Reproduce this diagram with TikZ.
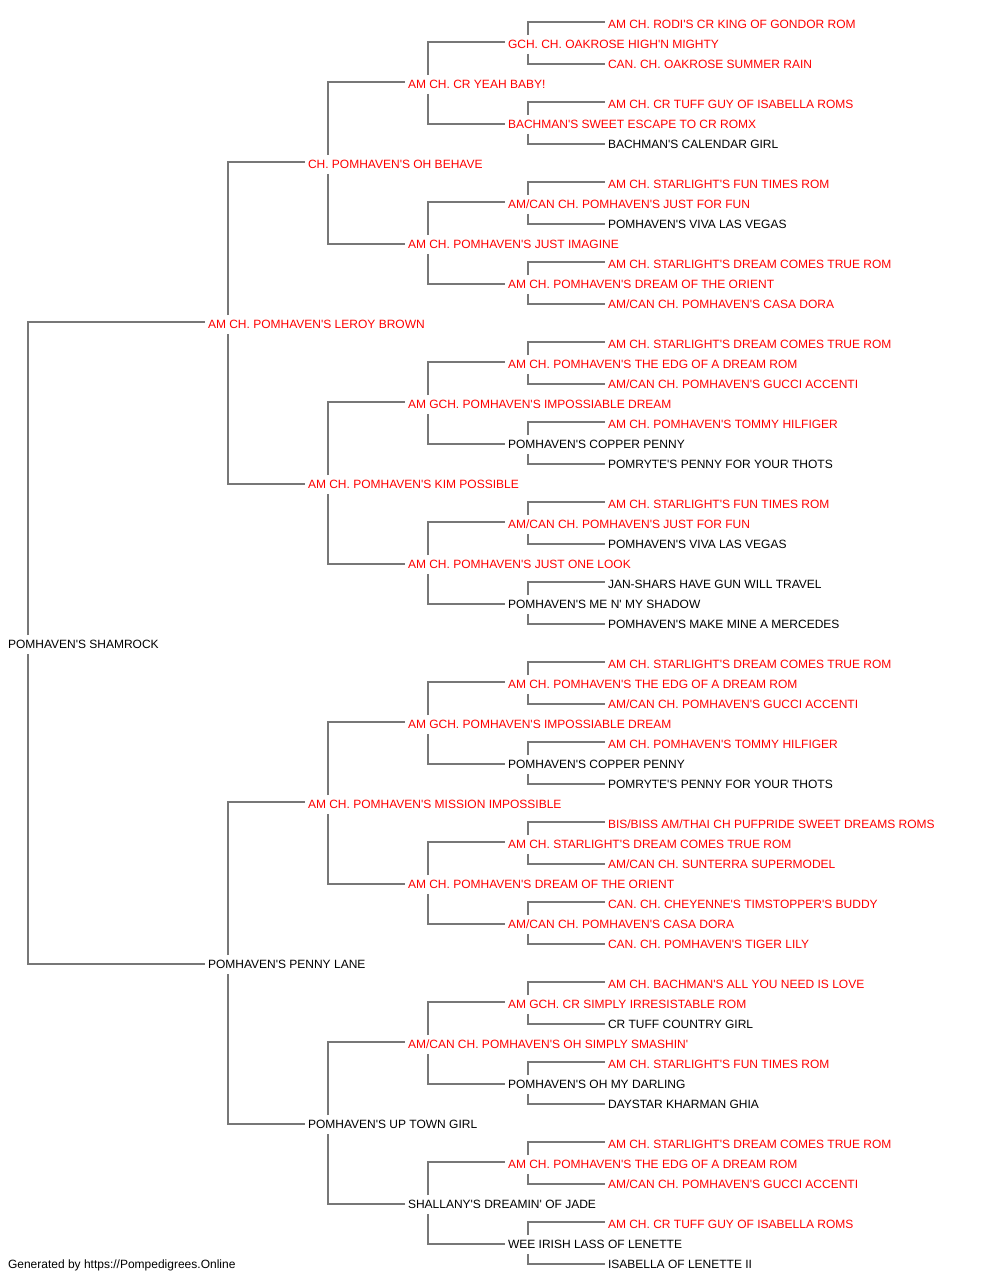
\documentclass[tikz,border=0pt]{standalone}
\usepackage{fontspec}
\newfontfamily\dogfam{Liberation Sans}
\usetikzlibrary{calc}
\definecolor{pedred}{HTML}{FF0000}
\definecolor{pedline}{HTML}{777777}
\tikzset{
  dog/.style={anchor=base west, inner sep=0pt, outer sep=0pt, font=\dogfam\fontsize{9pt}{11pt}\selectfont},
  champ/.style={dog, text=pedred},
  plain/.style={dog, text=black},
  link/.style={draw=pedline, line width=0.9pt}
}
\begin{document}
\begin{tikzpicture}[x=0.75pt,y=-0.75pt]
\useasboundingbox (0,0) rectangle (1000,1280);
% row k baseline = 28.3 + 20k
\node[champ] (n0) at (608,28.3) {AM CH. RODI'S CR KING OF GONDOR ROM};
\node[champ] (n1) at (508,48.3) {GCH. CH. OAKROSE HIGH'N MIGHTY};
\node[champ] (n2) at (608,68.3) {CAN. CH. OAKROSE SUMMER RAIN};
\node[champ] (n3) at (408,88.3) {AM CH. CR YEAH BABY!};
\node[champ] (n4) at (608,108.3) {AM CH. CR TUFF GUY OF ISABELLA ROMS};
\node[champ] (n5) at (508,128.3) {BACHMAN'S SWEET ESCAPE TO CR ROMX};
\node[plain] (n6) at (608,148.3) {BACHMAN'S CALENDAR GIRL};
\node[champ] (n7) at (308,168.3) {CH. POMHAVEN'S OH BEHAVE};
\node[champ] (n8) at (608,188.3) {AM CH. STARLIGHT'S FUN TIMES ROM};
\node[champ] (n9) at (508,208.3) {AM/CAN CH. POMHAVEN'S JUST FOR FUN};
\node[plain] (n10) at (608,228.3) {POMHAVEN'S VIVA LAS VEGAS};
\node[champ] (n11) at (408,248.3) {AM CH. POMHAVEN'S JUST IMAGINE};
\node[champ] (n12) at (608,268.3) {AM CH. STARLIGHT'S DREAM COMES TRUE ROM};
\node[champ] (n13) at (508,288.3) {AM CH. POMHAVEN'S DREAM OF THE ORIENT};
\node[champ] (n14) at (608,308.3) {AM/CAN CH. POMHAVEN'S CASA DORA};
\node[champ] (n15) at (208,328.3) {AM CH. POMHAVEN'S LEROY BROWN};
\node[champ] (n16) at (608,348.3) {AM CH. STARLIGHT'S DREAM COMES TRUE ROM};
\node[champ] (n17) at (508,368.3) {AM CH. POMHAVEN'S THE EDG OF A DREAM ROM};
\node[champ] (n18) at (608,388.3) {AM/CAN CH. POMHAVEN'S GUCCI ACCENTI};
\node[champ] (n19) at (408,408.3) {AM GCH. POMHAVEN'S IMPOSSIABLE DREAM};
\node[champ] (n20) at (608,428.3) {AM CH. POMHAVEN'S TOMMY HILFIGER};
\node[plain] (n21) at (508,448.3) {POMHAVEN'S COPPER PENNY};
\node[plain] (n22) at (608,468.3) {POMRYTE'S PENNY FOR YOUR THOTS};
\node[champ] (n23) at (308,488.3) {AM CH. POMHAVEN'S KIM POSSIBLE};
\node[champ] (n24) at (608,508.3) {AM CH. STARLIGHT'S FUN TIMES ROM};
\node[champ] (n25) at (508,528.3) {AM/CAN CH. POMHAVEN'S JUST FOR FUN};
\node[plain] (n26) at (608,548.3) {POMHAVEN'S VIVA LAS VEGAS};
\node[champ] (n27) at (408,568.3) {AM CH. POMHAVEN'S JUST ONE LOOK};
\node[plain] (n28) at (608,588.3) {JAN-SHARS HAVE GUN WILL TRAVEL};
\node[plain] (n29) at (508,608.3) {POMHAVEN'S ME N' MY SHADOW};
\node[plain] (n30) at (608,628.3) {POMHAVEN'S MAKE MINE A MERCEDES};
\node[plain] (n31) at (8,648.3) {POMHAVEN'S SHAMROCK};
\node[champ] (n32) at (608,668.3) {AM CH. STARLIGHT'S DREAM COMES TRUE ROM};
\node[champ] (n33) at (508,688.3) {AM CH. POMHAVEN'S THE EDG OF A DREAM ROM};
\node[champ] (n34) at (608,708.3) {AM/CAN CH. POMHAVEN'S GUCCI ACCENTI};
\node[champ] (n35) at (408,728.3) {AM GCH. POMHAVEN'S IMPOSSIABLE DREAM};
\node[champ] (n36) at (608,748.3) {AM CH. POMHAVEN'S TOMMY HILFIGER};
\node[plain] (n37) at (508,768.3) {POMHAVEN'S COPPER PENNY};
\node[plain] (n38) at (608,788.3) {POMRYTE'S PENNY FOR YOUR THOTS};
\node[champ] (n39) at (308,808.3) {AM CH. POMHAVEN'S MISSION IMPOSSIBLE};
\node[champ] (n40) at (608,828.3) {BIS/BISS AM/THAI CH PUFPRIDE SWEET DREAMS ROMS};
\node[champ] (n41) at (508,848.3) {AM CH. STARLIGHT'S DREAM COMES TRUE ROM};
\node[champ] (n42) at (608,868.3) {AM/CAN CH. SUNTERRA SUPERMODEL};
\node[champ] (n43) at (408,888.3) {AM CH. POMHAVEN'S DREAM OF THE ORIENT};
\node[champ] (n44) at (608,908.3) {CAN. CH. CHEYENNE'S TIMSTOPPER'S BUDDY};
\node[champ] (n45) at (508,928.3) {AM/CAN CH. POMHAVEN'S CASA DORA};
\node[champ] (n46) at (608,948.3) {CAN. CH. POMHAVEN'S TIGER LILY};
\node[plain] (n47) at (208,968.3) {POMHAVEN'S PENNY LANE};
\node[champ] (n48) at (608,988.3) {AM CH. BACHMAN'S ALL YOU NEED IS LOVE};
\node[champ] (n49) at (508,1008.3) {AM GCH. CR SIMPLY IRRESISTABLE ROM};
\node[plain] (n50) at (608,1028.3) {CR TUFF COUNTRY GIRL};
\node[champ] (n51) at (408,1048.3) {AM/CAN CH. POMHAVEN'S OH SIMPLY SMASHIN'};
\node[champ] (n52) at (608,1068.3) {AM CH. STARLIGHT'S FUN TIMES ROM};
\node[plain] (n53) at (508,1088.3) {POMHAVEN'S OH MY DARLING};
\node[plain] (n54) at (608,1108.3) {DAYSTAR KHARMAN GHIA};
\node[plain] (n55) at (308,1128.3) {POMHAVEN'S UP TOWN GIRL};
\node[champ] (n56) at (608,1148.3) {AM CH. STARLIGHT'S DREAM COMES TRUE ROM};
\node[champ] (n57) at (508,1168.3) {AM CH. POMHAVEN'S THE EDG OF A DREAM ROM};
\node[champ] (n58) at (608,1188.3) {AM/CAN CH. POMHAVEN'S GUCCI ACCENTI};
\node[plain] (n59) at (408,1208.3) {SHALLANY'S DREAMIN' OF JADE};
\node[champ] (n60) at (608,1228.3) {AM CH. CR TUFF GUY OF ISABELLA ROMS};
\node[plain] (n61) at (508,1248.3) {WEE IRISH LASS OF LENETTE};
\node[plain] (n62) at (608,1268.3) {ISABELLA OF LENETTE II};
\node[plain] (footer) at (8,1268.3) {Generated by https://Pompedigrees.Online};
% connectors: parent / half-span
\foreach \p/\a in {1/1,5/1,9/1,13/1,17/1,21/1,25/1,29/1,33/1,37/1,41/1,45/1,49/1,53/1,57/1,61/1,
                   3/2,11/2,19/2,27/2,35/2,43/2,51/2,59/2,
                   7/4,23/4,39/4,55/4,
                   15/8,47/8,
                   31/16}{
  \pgfmathtruncatemacro\t{\p-\a}
  \pgfmathtruncatemacro\b{\p+\a}
  \draw[link] ($(n\p.base west)+(20,-13.3)$) |- ($(n\t.base west)+(-3,-6.3)$);
  \draw[link] ($(n\p.base west)+(20,5.7)$) |- ($(n\b.base west)+(-3,-4.3)$);
}
\end{tikzpicture}
\end{document}
